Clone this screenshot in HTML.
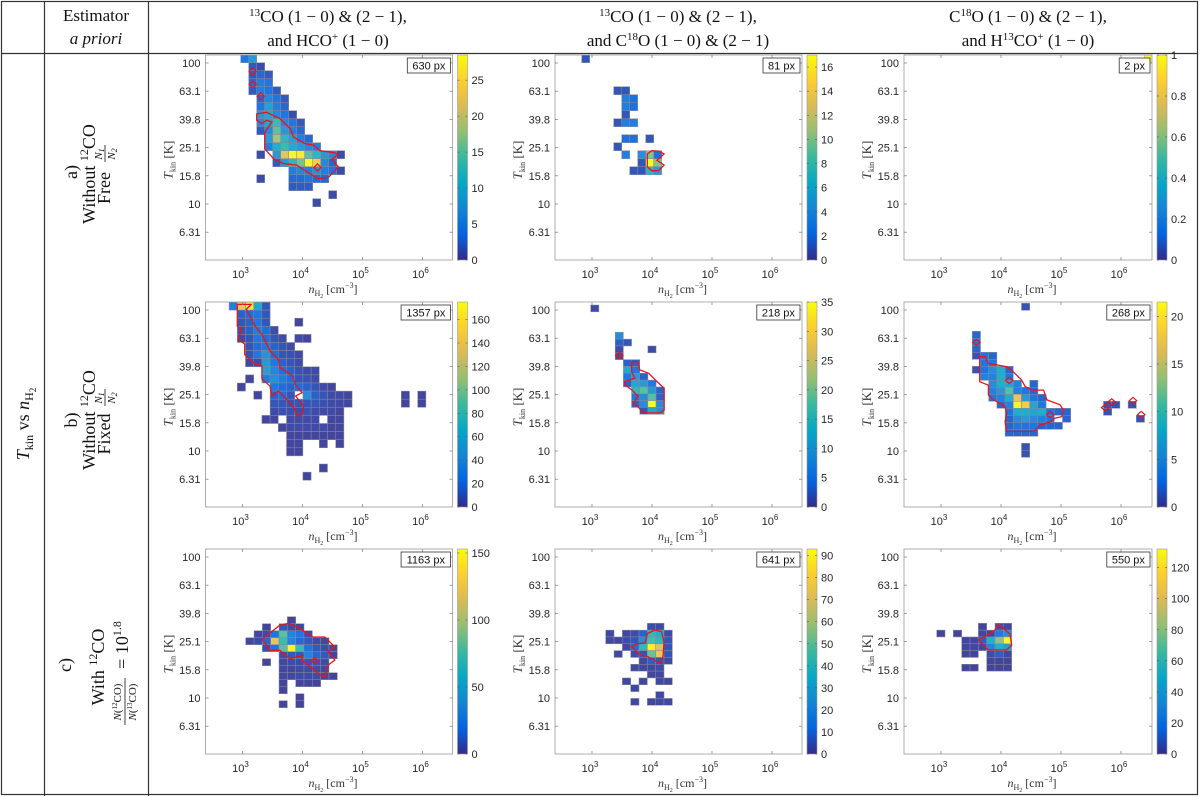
<!DOCTYPE html>
<html><head><meta charset="utf-8"><title>Tkin vs nH2 histograms</title>
<style>
html,body{margin:0;padding:0;background:#fff;}
svg{display:block;font-family:"Liberation Sans",sans-serif;}
.serif{font-family:"Liberation Serif",serif;}
.tick{font-size:11px;fill:#262626;}
</style></head>
<body>
<svg id="fig" width="1200" height="797" viewBox="0 0 1200 797" xmlns="http://www.w3.org/2000/svg">
<defs>
<linearGradient id="parula" x1="0" y1="1" x2="0" y2="0">
<stop offset="0" stop-color="#352A87"/><stop offset="0.125" stop-color="#0363E1"/><stop offset="0.25" stop-color="#1485D4"/><stop offset="0.375" stop-color="#06A7C6"/><stop offset="0.5" stop-color="#38B99E"/><stop offset="0.625" stop-color="#92BF73"/><stop offset="0.75" stop-color="#D9BA56"/><stop offset="0.875" stop-color="#FCCE2E"/><stop offset="1" stop-color="#F9FB0E"/>
</linearGradient>
</defs>
<rect x="1.5" y="1.5" width="1196" height="793" fill="none" stroke="#333" stroke-width="1.2"/>
<line x1="44.5" y1="1" x2="44.5" y2="796" stroke="#333" stroke-width="1.2"/>
<line x1="148.5" y1="1" x2="148.5" y2="796" stroke="#333" stroke-width="1.2"/>
<line x1="1" y1="53.5" x2="1198" y2="53.5" stroke="#333" stroke-width="1.2"/>
<g class="serif" font-size="17" fill="#111" text-anchor="middle">
<text x="96" y="21">Estimator</text>
<text x="96" y="44" font-style="italic">a priori</text>
<text x="328" y="22"><tspan font-size="11" dy="-6">13</tspan><tspan dy="6">CO (1 − 0) &amp; (2 − 1),</tspan></text>
<text x="328" y="46">and HCO<tspan font-size="11" dy="-6">+</tspan><tspan dy="6"> (1 − 0)</tspan></text>
<text x="678" y="22"><tspan font-size="11" dy="-6">13</tspan><tspan dy="6">CO (1 − 0) &amp; (2 − 1),</tspan></text>
<text x="678" y="46">and C<tspan font-size="11" dy="-6">18</tspan><tspan dy="6">O (1 − 0) &amp; (2 − 1)</tspan></text>
<text x="1028" y="22">C<tspan font-size="11" dy="-6">18</tspan><tspan dy="6">O (1 − 0) &amp; (2 − 1),</tspan></text>
<text x="1028" y="46">and H<tspan font-size="11" dy="-6">13</tspan><tspan dy="6">CO</tspan><tspan font-size="11" dy="-6">+</tspan><tspan dy="6"> (1 − 0)</tspan></text>
</g>
<g class="serif" transform="translate(29,424) rotate(-90)" text-anchor="middle" font-size="18" fill="#111">
<text x="0" y="0"><tspan font-style="italic">T</tspan><tspan font-size="12" dy="4">kin</tspan><tspan dy="-4"> vs </tspan><tspan font-style="italic">n</tspan><tspan font-size="12" dy="4">H</tspan><tspan font-size="9" dy="3">2</tspan></text>
</g>
<g class="serif" font-size="18" fill="#111" text-anchor="middle">
<g transform="translate(77,172) rotate(-90)"><text x="0" y="0">a)</text></g>
<g transform="translate(95,174) rotate(-90)"><text x="0" y="0">Without <tspan font-size="12" dy="-7">12</tspan><tspan dy="7">CO</tspan></text></g>
<g transform="translate(110,174) rotate(-90)"><text x="-14" y="0">Free</text>
<text x="20" y="-8" font-size="11" font-style="italic">N<tspan font-size="8" dy="2">1</tspan></text><line x1="12" y1="-5" x2="29" y2="-5" stroke="#111" stroke-width="0.8"/><text x="20" y="5" font-size="11" font-style="italic">N<tspan font-size="8" dy="2">2</tspan></text></g>

<g transform="translate(77,420) rotate(-90)"><text x="0" y="0">b)</text></g>
<g transform="translate(95,420) rotate(-90)"><text x="0" y="0">Without <tspan font-size="12" dy="-7">12</tspan><tspan dy="7">CO</tspan></text></g>
<g transform="translate(110,420) rotate(-90)"><text x="-14" y="0">Fixed</text>
<text x="22" y="-8" font-size="11" font-style="italic">N<tspan font-size="8" dy="2">1</tspan></text><line x1="14" y1="-5" x2="31" y2="-5" stroke="#111" stroke-width="0.8"/><text x="22" y="5" font-size="11" font-style="italic">N<tspan font-size="8" dy="2">2</tspan></text></g>

<g transform="translate(71,665) rotate(-90)"><text x="0" y="0">c)</text></g>
<g transform="translate(104,667) rotate(-90)"><text x="0" y="0">With <tspan font-size="12" dy="-7">12</tspan><tspan dy="7">CO</tspan></text></g>
<g transform="translate(130,667) rotate(-90)">
<text x="-35" y="-9" font-size="11"><tspan font-style="italic">N</tspan>(<tspan font-size="7" dy="-4">12</tspan><tspan dy="4">CO)</tspan></text>
<line x1="-58" y1="-5" x2="-11" y2="-5" stroke="#111" stroke-width="0.8"/>
<text x="-35" y="6" font-size="11"><tspan font-style="italic">N</tspan>(<tspan font-size="7" dy="-4">13</tspan><tspan dy="4">CO)</tspan></text>
<text x="22" y="-2" font-size="18">= 10<tspan font-size="12" dy="-7">1.8</tspan></text></g>
</g>
<g id="plots"></g>
</svg>
<script>
const P1_CELLS=[[0,0,4],[1,0,8],[1,1,2],[2,1,1],[1,2,2],[2,2,3],[3,2,2],[1,3,3],[2,3,5],[3,3,4],[1,4,2],[2,4,5],[3,4,4],[4,4,2],[2,5,3],[3,5,6],[4,5,4],[5,5,2],[2,6,4],[3,6,9],[4,6,5],[5,6,3],[2,7,8],[3,7,10],[4,7,6],[5,7,4],[6,7,1],[2,8,6],[3,8,9],[4,8,13],[5,8,6],[6,8,4],[7,8,2],[2,9,2],[3,9,6],[4,9,15],[5,9,8],[6,9,5],[7,9,3],[3,10,8],[4,10,18],[5,10,12],[6,10,9],[7,10,5],[8,10,3],[3,11,5],[4,11,11],[5,11,13],[6,11,10],[7,11,8],[8,11,6],[9,11,5],[2,12,1],[4,12,8],[5,12,22],[6,12,28],[7,12,27],[8,12,15],[9,12,12],[10,12,8],[11,12,6],[12,12,1],[4,13,2],[5,13,8],[6,13,12],[7,13,16],[8,13,28],[9,13,24],[10,13,6],[11,13,3],[6,14,5],[7,14,6],[8,14,5],[9,14,7],[10,14,5],[11,14,4],[12,14,1],[2,15,1],[6,15,3],[7,15,3],[8,15,4],[9,15,3],[10,15,3],[6,16,2],[7,16,2],[8,16,2],[11,17,1],[9,18,1]];
const P2_CELLS=[[-1,0,1],[3,4,1],[4,4,1],[4,5,3],[5,5,2],[4,6,3],[5,6,2],[4,7,1],[3,8,1],[4,8,3],[5,8,3],[4,10,2],[5,10,2],[7,10,1],[3,11,1],[4,12,3],[6,12,4],[7,12,10],[8,12,2],[6,13,1],[7,13,17],[8,13,10],[5,14,1],[6,14,1],[7,14,7],[8,14,5]];
const P3_CELLS=[[26,0,1]];
const P4_CELLS=[[-1,0,30],[0,0,140],[1,0,165],[2,0,60],[3,0,10],[0,1,15],[1,1,20],[2,1,25],[3,1,10],[0,2,10],[1,2,15],[2,2,25],[3,2,10],[7,2,3],[0,3,8],[1,3,15],[2,3,30],[3,3,20],[4,3,5],[0,4,5],[1,4,10],[2,4,25],[3,4,20],[4,4,10],[5,4,5],[7,4,5],[8,4,3],[1,5,10],[2,5,20],[3,5,25],[4,5,15],[5,5,10],[6,5,5],[1,6,10],[2,6,25],[3,6,45],[4,6,20],[5,6,10],[6,6,8],[7,6,5],[1,7,4],[2,7,5],[3,7,50],[4,7,25],[5,7,15],[6,7,10],[7,7,5],[3,8,55],[4,8,35],[5,8,20],[6,8,15],[7,8,8],[8,8,5],[9,8,5],[1,9,3],[3,9,30],[4,9,40],[5,9,30],[6,9,20],[7,9,10],[8,9,8],[9,9,5],[0,10,3],[4,10,25],[5,10,20],[6,10,15],[7,10,20],[8,10,15],[9,10,10],[10,10,5],[11,10,3],[2,11,3],[4,11,15],[5,11,20],[6,11,10],[8,11,40],[9,11,15],[10,11,10],[11,11,5],[12,11,5],[13,11,3],[20,11,3],[22,11,3],[4,12,10],[5,12,10],[6,12,8],[7,12,10],[8,12,10],[9,12,10],[10,12,8],[11,12,5],[12,12,5],[13,12,3],[20,12,3],[22,12,3],[4,13,5],[5,13,8],[6,13,8],[7,13,5],[8,13,10],[9,13,5],[10,13,5],[11,13,5],[12,13,3],[3,14,3],[4,14,3],[6,14,5],[7,14,5],[8,14,5],[9,14,5],[11,14,3],[12,14,3],[5,15,3],[6,15,5],[7,15,5],[8,15,5],[9,15,5],[10,15,5],[11,15,3],[12,15,3],[6,16,3],[7,16,3],[8,16,3],[9,16,3],[10,16,3],[11,16,3],[12,16,3],[6,17,3],[7,17,3],[10,17,3],[12,17,3],[6,18,3],[7,18,3],[10,20,3],[8,21,3]];
const P5_CELLS=[[0,0,1],[3,4,8],[3,5,3],[4,5,2],[3,6,1],[7,6,1],[3,7,1],[4,8,3],[5,8,3],[4,9,12],[5,9,5],[4,10,5],[5,10,10],[6,10,3],[4,11,3],[5,11,12],[6,11,10],[7,11,5],[5,12,15],[6,12,18],[7,12,10],[8,12,3],[5,13,5],[6,13,8],[7,13,18],[8,13,3],[5,14,3],[6,14,8],[7,14,35],[8,14,8],[6,15,2],[7,15,12],[8,15,8]];
const P6_CELLS=[[10,0,1],[4,4,2],[4,5,3],[4,6,2],[4,7,1],[5,7,3],[6,7,2],[5,8,3],[6,8,3],[4,9,1],[5,9,3],[6,9,5],[7,9,8],[8,9,2],[5,10,4],[6,10,4],[7,10,8],[8,10,3],[6,11,5],[7,11,8],[8,11,7],[9,11,4],[11,11,2],[6,12,4],[7,12,6],[8,12,11],[9,12,4],[10,12,3],[11,12,2],[6,13,3],[7,13,4],[8,13,8],[9,13,17],[10,13,6],[11,13,3],[12,13,2],[7,14,2],[8,14,4],[9,14,21],[10,14,18],[11,14,7],[12,14,3],[20,14,1],[21,14,1],[23,14,1],[8,15,3],[9,15,8],[10,15,8],[11,15,7],[12,15,8],[13,15,3],[14,15,2],[15,15,2],[20,15,1],[8,16,2],[9,16,5],[10,16,6],[11,16,5],[12,16,4],[13,16,3],[15,16,2],[24,16,1],[8,17,2],[9,17,3],[10,17,3],[11,17,3],[12,17,2],[13,17,2],[14,17,2],[8,18,2],[9,18,2],[10,18,2],[11,18,2],[10,20,1],[10,21,1]];
const P7_CELLS=[[5,0,2],[2,1,2],[4,1,10],[5,1,5],[6,1,3],[1,2,3],[2,2,5],[3,2,20],[4,2,80],[5,2,30],[6,2,20],[7,2,5],[0,3,3],[1,3,5],[2,3,15],[3,3,120],[4,3,70],[5,3,30],[6,3,15],[7,3,10],[8,3,5],[9,3,3],[2,4,5],[3,4,20],[4,4,80],[5,4,150],[6,4,70],[7,4,20],[8,4,10],[9,4,5],[10,4,5],[4,5,5],[5,5,10],[6,5,10],[7,5,30],[8,5,15],[9,5,10],[10,5,3],[2,6,2],[4,6,3],[5,6,5],[6,6,5],[7,6,8],[8,6,8],[9,6,5],[4,7,3],[5,7,3],[6,7,5],[7,7,5],[8,7,5],[9,7,3],[4,8,3],[5,8,3],[6,8,5],[7,8,5],[8,8,5],[9,8,3],[10,8,2],[4,9,2],[6,9,2],[7,9,2],[8,9,2],[4,10,2],[6,11,2],[4,12,2],[6,12,2]];
const P8_CELLS=[[5,0,3],[6,0,2],[0,1,2],[2,1,2],[3,1,3],[4,1,8],[5,1,40],[6,1,35],[7,1,3],[0,2,2],[1,2,2],[2,2,3],[3,2,5],[4,2,20],[5,2,45],[6,2,40],[7,2,5],[2,3,2],[3,3,10],[4,3,40],[5,3,90],[6,3,70],[7,3,5],[1,4,2],[3,4,3],[4,4,5],[5,4,50],[6,4,75],[7,4,5],[4,5,2],[5,5,8],[6,5,5],[7,5,3],[3,6,2],[4,6,2],[5,6,2],[6,6,3],[5,7,2],[6,7,2],[2,8,2],[4,8,2],[6,8,2],[7,8,2],[3,9,2],[6,10,2],[3,11,2],[5,11,2],[6,11,2],[7,11,2]];
const P9_CELLS=[[5,0,2],[7,0,5],[8,0,3],[0,1,2],[2,1,2],[5,1,3],[6,1,2],[7,1,20],[8,1,30],[3,2,2],[4,2,2],[5,2,10],[6,2,50],[7,2,80],[8,2,130],[3,3,2],[4,3,3],[5,3,3],[6,3,25],[7,3,50],[8,3,40],[3,4,2],[4,4,2],[6,4,5],[7,4,10],[8,4,3],[6,5,2],[7,5,2],[8,5,2],[3,6,2],[4,6,2],[6,6,2],[7,6,2],[8,6,2]];

const P1_CONTOUR=[[2,7.4],[3.25,7.2],[4.9,8],[6.2,9.25],[6.6,10.3],[8,11.1],[9.1,11.3],[9.9,12],[11.4,12.2],[12.2,12.4],[11.4,13.1],[12.2,14],[11,15.3],[9.7,15.5],[8.7,14.9],[7,13.8],[5.3,13.6],[4.1,13],[3,11.75],[3,9.7],[3.5,9],[3.9,8.4],[3.25,8.2],[2.6,8.6],[2,8.2]];
const P1_DIAMONDS=[[1.5,2.1],[1.5,3.7],[2.5,5.2],[9.6,14.1]];
const P2_CONTOUR=[[7.2,12.4],[7.75,12],[8.6,12.05],[9.3,12.4],[8.4,13.2],[9.3,13.8],[8.6,14.5],[7.75,14.5],[7.2,14]];
const P2_DIAMONDS=[];
const P3_CONTOUR=[];
const P3_DIAMONDS=[];
const P4_CONTOUR=[[0,0.3],[0,3],[0.5,3.4],[0.1,4.6],[0.9,5.2],[0.9,6.5],[2,7.5],[3,7.9],[3,9.5],[4,10.4],[4.2,11.6],[5,11],[6,12],[7,13.2],[7.3,14.1],[7.9,13.9],[8.1,12.8],[7.1,11.6],[7.9,11.2],[7.1,10.2],[6.7,9.1],[5.2,8.1],[5,7.1],[4,6.05],[3,4],[2.2,3],[1.1,0.9],[1.7,0.3]];
const P4_DIAMONDS=[];
const P5_CONTOUR=[[5,8.3],[5.8,8.3],[6,9.5],[7.1,10],[8.1,11.2],[9,12.2],[9,15.4],[8.5,15.8],[6.4,15.8],[5.8,14.9],[5.2,14.4],[5.8,13.4],[5,12.4],[4.2,11.7],[4.2,11.2],[5.4,10.7],[5,9.8]];
const P5_DIAMONDS=[[3.5,7.4]];
const P6_CONTOUR=[[4.9,7.6],[5.55,7.6],[5.96,8.6],[7,8.8],[8.2,9.05],[9,9.8],[10,10.95],[10.45,11.9],[11.3,12.4],[12.7,12.4],[13.1,13.8],[14.7,14.5],[15.1,15.2],[14.9,16.2],[14.1,16.4],[13.5,16.9],[12.3,17.4],[11.5,18.3],[8.2,18.3],[8,16.9],[8.2,15.7],[8,14.8],[7.4,14.3],[6.6,13.8],[5.96,13.1],[5.96,11.7],[4.9,11.2]];
const P6_DIAMONDS=[[4.5,5.6],[8.5,11],[13.5,15.9],[20.2,14.9],[21,14.1],[23.6,13.9],[24.6,15.9]];
const P7_CONTOUR=[[2,3.2],[4.1,1.2],[5.1,0.95],[6.1,1.4],[8.1,2.9],[9.5,2.9],[10.7,4.3],[9.9,5],[10.7,6.2],[9.9,6.9],[9.5,8.7],[8.7,8.1],[7.7,7.1],[6.7,6.2],[6.9,5.5],[5.3,6],[4.1,4.8],[2.9,4.8]];
const P7_DIAMONDS=[[8.3,6.3]];
const P8_CONTOUR=[[5,1.5],[5.9,1],[6.7,1.2],[7,2.7],[6.9,4.6],[6.7,5.9],[6.1,5.6],[5.1,4.9],[4.1,4.6],[3.1,3.4],[3.7,3],[4.7,2.9]];
const P8_DIAMONDS=[];
const P9_CONTOUR=[[5,2.4],[5.8,1.95],[7,1],[7.4,0.1],[8,0.7],[8.8,1.6],[9,3.2],[8.4,3.9],[6.2,3.9],[5.6,3.2]];
const P9_DIAMONDS=[];

const CB_MAX=[28.5,17,1,175,35,21.5,153,93,132];
const CB_TICKS=[[0,5,10,15,20,25],[0,2,4,6,8,10,12,14,16],[0,0.2,0.4,0.6,0.8,1],[0,20,40,60,80,100,120,140,160],[0,5,10,15,20,25,30,35],[0,5,10,15,20],[0,50,100,150],[0,10,20,30,40,50,60,70,80,90],[0,20,40,60,80,100,120]];
const PX_COUNTS=[630,81,2,1357,218,268,1163,641,550];
const Y_TICKS=[2,1.8,1.6,1.4,1.2,1,0.8];
const Y_TICK_LABELS=["100","63.1","39.8","25.1","15.8","10","6.31"];
const X_TICKS=[3,4,5,6];

const COL_X=[205.5,555,904];
const COL_W=[247,247,248];
const ROW_Y=[55,302,549];
const AX_H=205;
const GRID=[
 {gx:240.7,gy:54.7,cw:8,ch:8},{gx:589.7,gy:54.7,cw:8,ch:8},{gx:936.7,gy:54.7,cw:8,ch:8},
 {gx:237.3,gy:302,cw:8.2,ch:8.1},{gx:590.7,gy:305,cw:8.17,ch:6.83},{gx:939.5,gy:303.3,cw:8.2,ch:7},
 {gx:245.7,gy:616.7,cw:8.33,ch:7},{gx:605.7,gy:623.3,cw:8.33,ch:6.83},{gx:936.7,gy:623.3,cw:8.33,ch:6.83}];
const CELLS=[P1_CELLS,P2_CELLS,P3_CELLS,P4_CELLS,P5_CELLS,P6_CELLS,P7_CELLS,P8_CELLS,P9_CELLS];
const CONTOURS=[P1_CONTOUR,P2_CONTOUR,P3_CONTOUR,P4_CONTOUR,P5_CONTOUR,P6_CONTOUR,P7_CONTOUR,P8_CONTOUR,P9_CONTOUR];
const DIAMONDS=[P1_DIAMONDS,P2_DIAMONDS,P3_DIAMONDS,P4_DIAMONDS,P5_DIAMONDS,P6_DIAMONDS,P7_DIAMONDS,P8_DIAMONDS,P9_DIAMONDS];

const NS='http://www.w3.org/2000/svg';
const STOPS=[[0x35,0x2A,0x87],[0x03,0x63,0xE1],[0x14,0x85,0xD4],[0x06,0xA7,0xC6],[0x38,0xB9,0x9E],[0x92,0xBF,0x73],[0xD9,0xBA,0x56],[0xFC,0xCE,0x2E],[0xF9,0xFB,0x0E]];
function parula(t){t=Math.max(0,Math.min(1,t));const f=t*8,i=Math.min(7,Math.floor(f)),u=f-i;const a=STOPS[i],b=STOPS[i+1];return 'rgb('+a.map((v,j)=>Math.round(v+(b[j]-v)*u)).join(',')+')';}
function el(tag,attrs,parent){const e=document.createElementNS(NS,tag);for(const k in attrs)e.setAttribute(k,attrs[k]);parent.appendChild(e);return e;}

const root=document.getElementById('plots');
for(let p=0;p<9;p++){
 const col=p%3,row=Math.floor(p/3);
 const L=COL_X[col],T=ROW_Y[row],W=COL_W[col],H=AX_H,R=L+W,B=T+H;
 const g=GRID[p];
 const xBin=i=>g.gx+i*g.cw;
 const yBin=j=>g.gy+j*g.ch;
 const xLog=v=>L+37+(v-3)*60;
 const yLog=v=>T+8+(2-v)*141;
 const grp=el('g',{},root);
 
 
 const cid='clip'+p;
 const cp=el('clipPath',{id:cid},grp);el('rect',{x:L,y:T,width:W,height:H},cp);
 const cellG=el('g',{'clip-path':'url(#'+cid+')'},grp);
 const vmax=CB_MAX[p];
 CELLS[p].forEach(c=>{
  const r=el('rect',{x:xBin(c[0]).toFixed(2),y:yBin(c[1]).toFixed(2),width:g.cw,height:g.ch,fill:parula(c[2]/vmax),'fill-opacity':0.9,stroke:'#8a8a9a','stroke-width':0.5},cellG);
  
  
 });
 if(CONTOURS[p].length){
  const d='M'+CONTOURS[p].map(q=>xBin(q[0]).toFixed(1)+','+yBin(q[1]).toFixed(1)).join('L')+'Z';
  const c=el('path',{d:d,fill:'none',stroke:'#e8141c','stroke-width':1.3},cellG);
  
  
 }
 DIAMONDS[p].forEach(q=>{
  const cx=xBin(q[0]),cy=yBin(q[1]),rx=g.cw*0.45,ry=g.ch*0.45;
  const dm=el('path',{d:`M${cx-rx},${cy}L${cx},${cy-ry}L${cx+rx},${cy}L${cx},${cy+ry}Z`,fill:'none',stroke:'#e8141c','stroke-width':1.2},cellG);
  
  
 });
 const fr=el('rect',{x:L,y:T,width:W,height:H,fill:'none',stroke:'#9a9a9a','stroke-width':0.8},grp);
 
 
 Y_TICKS.forEach((v,i)=>{
  const y=yLog(v);
  el('line',{x1:L,x2:L+3,y1:y,y2:y,stroke:'#777','stroke-width':0.7},grp);
  el('line',{x1:R-3,x2:R,y1:y,y2:y,stroke:'#777','stroke-width':0.7},grp);
  const t=el('text',{x:L-5,y:y+4,'text-anchor':'end',class:'tick'},grp);
  t.textContent=Y_TICK_LABELS[i];
  
  
 });
 X_TICKS.forEach(v=>{
  const x=xLog(v);
  el('line',{x1:x,x2:x,y1:B,y2:B-3,stroke:'#777','stroke-width':0.7},grp);
  el('line',{x1:x,x2:x,y1:T,y2:T+3,stroke:'#777','stroke-width':0.7},grp);
  const t=el('text',{x:x-2,y:B+18,'text-anchor':'middle',class:'tick','font-size':'12'},grp);
  t.innerHTML='10<tspan font-size="8" dy="-5">'+v+'</tspan>';
  
  
 });
 const xt=el('text',{x:L+W/2+4,y:B+33,'text-anchor':'middle','font-size':'12',fill:'#333',class:'serif'},grp);
 xt.innerHTML='<tspan font-style="italic">n</tspan><tspan font-size="8" dy="3">H</tspan><tspan font-size="6" dy="2">2</tspan><tspan dy="-5"> [cm</tspan><tspan font-size="8" dy="-5">−3</tspan><tspan dy="5">]</tspan>';
 
 
 const yt=el('text',{transform:`translate(${L-33},${T+105}) rotate(-90)`,'text-anchor':'middle','font-size':'13',fill:'#333',class:'serif'},grp);
 yt.innerHTML='<tspan font-style="italic">T</tspan><tspan font-size="8" dy="3">kin</tspan><tspan dy="-3"> [K]</tspan>';
 
 
 const lbl=PX_COUNTS[p]+' px';
 const bw=lbl.length*6.2+6;
 const bx=el('rect',{x:R-bw-2,y:T+3,width:bw,height:15,fill:'#fff',stroke:'#333','stroke-width':0.8},grp);
 
 
 const bt=el('text',{x:R-2-bw/2,y:T+14.5,'text-anchor':'middle','font-size':'11',fill:'#111'},grp);
 bt.textContent=lbl;
 
 
 const cbx=R+5,cbw=10;
 const cb=el('rect',{x:cbx,y:T,width:cbw,height:H,fill:'url(#parula)',stroke:'#9a9a9a','stroke-width':0.6},grp);
 
 
 CB_TICKS[p].forEach(v=>{
  const y=B-v/vmax*H;
  el('line',{x1:cbx,x2:cbx+2,y1:y,y2:y,stroke:'#555','stroke-width':0.6},grp);
  el('line',{x1:cbx+cbw-2,x2:cbx+cbw,y1:y,y2:y,stroke:'#555','stroke-width':0.6},grp);
  const t=el('text',{x:cbx+cbw+4,y:y+4,class:'tick'},grp);
  t.textContent=String(v);
  
  
 });
}
</script>
</body></html>
